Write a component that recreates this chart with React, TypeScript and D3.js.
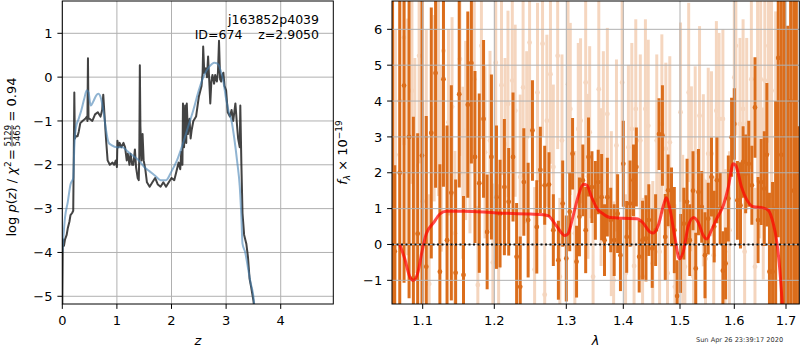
import React from 'react';
import * as d3 from 'd3';

// ---- left panel: p(z) curves  [z, log p(z)]
const pzRaw: [number, number][] = [
  [0, -5.3], [0.01, -3.7], [0.03, -3.85], [0.05, -3.7], [0.08, -3.6], [0.1, -3.45], [0.13, -3.3],
  [0.15, -3.15], [0.18, -3.1], [0.2, -3.05], [0.21, -1.8], [0.22, -0.35], [0.23, -1.4], [0.25, -1.35],
  [0.28, -1.35], [0.3, -1.25], [0.33, -1.05], [0.37, -1.0], [0.42, -0.95], [0.45, -0.9], [0.46, -1.0],
  [0.47, 0.43], [0.48, -0.95], [0.5, -0.95], [0.55, -1.0], [0.6, -0.85], [0.65, -0.8], [0.7, -0.9],
  [0.73, -0.75], [0.75, -0.4], [0.77, -0.8], [0.8, -1.4], [0.83, -1.9], [0.87, -2.0], [0.92, -1.95],
  [0.95, -2.0], [0.98, -1.9], [1.0, -2.05], [1.01, -1.45], [1.03, -1.6], [1.05, -1.5], [1.08, -1.6],
  [1.12, -1.5], [1.15, -1.6], [1.18, -1.9], [1.2, -1.75], [1.23, -2.0], [1.25, -1.75], [1.28, -2.0],
  [1.3, -2.0], [1.33, -1.65], [1.35, -2.05], [1.38, -2.3], [1.4, -2.35], [1.41, -1.8], [1.42, 0.27],
  [1.43, -1.1], [1.45, -1.9], [1.47, -1.3], [1.49, -1.9], [1.52, -2.1], [1.55, -2.4], [1.6, -2.5],
  [1.65, -2.4], [1.7, -2.3], [1.75, -2.45], [1.8, -2.5], [1.85, -2.4], [1.9, -2.5], [1.95, -2.4],
  [2.0, -2.3], [2.05, -2.35], [2.1, -2.1], [2.13, -1.95], [2.16, -2.1], [2.18, -1.7], [2.2, -2.0],
  [2.21, -0.6], [2.23, -1.6], [2.25, -0.65], [2.27, -1.5], [2.28, -0.6], [2.3, -1.3], [2.33, -0.95],
  [2.35, -1.4], [2.37, -1.2], [2.4, -1.0], [2.45, -0.9], [2.5, -0.45], [2.55, -0.2], [2.57, 0.1],
  [2.58, 0.7], [2.6, 0.1], [2.63, 0.2], [2.65, 0.0], [2.67, 0.47], [2.69, -0.05], [2.71, -0.6],
  [2.73, -0.1], [2.75, 0.05], [2.78, -0.15], [2.8, 0.05], [2.83, -0.1], [2.85, 0.1], [2.87, 0.83],
  [2.89, -0.05], [2.91, -0.1], [2.93, 0.05], [2.95, 0.1], [2.97, -0.2], [3.0, -0.3], [3.03, -0.8],
  [3.07, -0.9], [3.1, -0.75], [3.13, -1.0], [3.17, -0.6], [3.2, -1.1], [3.22, -1.4], [3.25, -1.6],
  [3.26, -0.65], [3.28, -2.0], [3.3, -3.1], [3.33, -3.6], [3.37, -3.8], [3.4, -4.1], [3.43, -4.6],
  [3.46, -4.8], [3.5, -5.1], [3.53, -5.4],
];

const pzSmooth: [number, number][] = [
  [0, -4.0], [0.05, -3.2], [0.1, -2.85], [0.15, -2.45], [0.2, -2.3], [0.22, -1.6], [0.25, -1.15],
  [0.3, -0.95], [0.35, -0.75], [0.4, -0.5], [0.45, -0.3], [0.48, -0.35], [0.52, -0.65], [0.57, -0.55],
  [0.62, -0.42], [0.66, -0.38], [0.7, -0.45], [0.75, -0.75], [0.8, -1.2], [0.85, -1.5], [0.9, -1.55],
  [1.0, -1.6], [1.1, -1.6], [1.2, -1.7], [1.3, -1.8], [1.4, -1.9], [1.5, -2.05], [1.6, -2.15],
  [1.7, -2.25], [1.8, -2.35], [1.9, -2.35], [2.0, -2.15], [2.1, -1.9], [2.2, -1.55], [2.3, -1.15],
  [2.4, -0.75], [2.5, -0.3], [2.6, 0.05], [2.7, 0.25], [2.78, 0.33], [2.85, 0.3], [2.9, 0.15],
  [2.95, -0.1], [3.0, -0.5], [3.05, -0.8], [3.1, -1.0], [3.15, -1.4], [3.2, -1.9], [3.25, -2.5],
  [3.28, -3.2], [3.3, -3.8], [3.35, -4.0], [3.4, -4.35], [3.45, -4.7], [3.5, -5.0], [3.53, -5.4],
];

// ---- right panel: spectrum  [lambda, flux, err]
const specStrong: [number, number, number][] = [
  [1.058, 1.5, 6.0], [1.061, -0.19, 2.4], [1.068, 2.0, 4.8], [1.074, 4.43, 5.5], [1.081, 3.0, 4.5],
  [1.087, -0.94, 4.5], [1.093, 0.3, 2.8], [1.099, 2.48, 4.5], [1.105, -0.62, 4.2], [1.112, 3.11, 3.5],
  [1.118, 4.78, 3.2], [1.124, -0.76, 3.0], [1.129, 4.61, 3.0], [1.134, 0.12, 3.2], [1.14, 1.44, 3.0],
  [1.146, -0.79, 2.6], [1.151, 4.19, 2.6], [1.157, -0.85, 2.2], [1.163, 3.9, 2.6], [1.168, 5.06, 2.8],
  [1.173, 2.44, 2.4], [1.179, 1.71, 2.5], [1.185, 3.5, 2.2], [1.19, 0.35, 1.6], [1.196, 2.44, 2.3],
  [1.203, 1.32, 2.0], [1.208, 0.86, 1.5], [1.214, 1.6, 1.9], [1.22, 1.19, 1.5], [1.226, 2.44, 1.8],
  [1.231, -0.34, 1.5], [1.236, -1.18, 1.4], [1.241, 1.74, 1.5], [1.247, 0.68, 1.6], [1.253, 3.18, 1.4],
  [1.259, 0.49, 1.3], [1.264, 2.08, 1.2], [1.27, 1.65, 1.1], [1.276, 1.67, 0.9], [1.282, 0.4, 1.0],
  [1.289, -0.44, 1.1], [1.295, 1.14, 1.2], [1.3, -0.39, 1.2], [1.306, 0.91, 1.1], [1.311, 2.53, 1.0],
  [1.318, -0.48, 1.0], [1.323, 0.77, 1.1], [1.329, 1.79, 1.0], [1.334, 0.4, 1.2], [1.339, 2.44, 1.1],
  [1.345, 1.6, 1.0], [1.351, 1.23, 1.1], [1.356, 1.74, 0.9], [1.362, 1.32, 1.2], [1.367, 0.12, 1.0],
  [1.372, 1.32, 1.1], [1.378, 0.68, 0.9], [1.384, 0.12, 1.0], [1.39, 0.86, 1.1], [1.395, -0.3, 1.0],
  [1.4, 2.25, 1.2], [1.406, 0.21, 1.0], [1.412, 1.14, 1.2], [1.418, 1.79, 1.0], [1.423, 2.16, 1.1],
  [1.428, -0.34, 1.0], [1.434, 0.12, 1.1], [1.44, 0.17, 1.2], [1.445, 0.68, 1.0], [1.451, -0.11, 1.1],
  [1.457, 0.4, 1.0], [1.463, 3.08, 1.0], [1.469, 3.04, 1.4], [1.474, 0.21, 1.2], [1.479, 1.51, 1.0],
  [1.485, 1.05, 1.1], [1.49, 0.4, 1.2], [1.495, -1.44, 1.0], [1.501, -0.25, 1.1], [1.507, 0.58, 1.0],
  [1.513, 1.19, 1.2], [1.518, 0.12, 1.0], [1.524, 1.5, 1.1], [1.529, -0.67, 1.0], [1.534, 1.46, 1.2],
  [1.54, 1.05, 1.0], [1.546, -0.3, 1.2], [1.552, 0.72, 1.0], [1.558, 1.88, 1.1], [1.563, 0.5, 1.0],
  [1.568, 1.79, 1.2], [1.574, 1.0, 1.0], [1.579, -0.73, 1.1], [1.584, -0.53, 1.0], [1.589, 1.28, 1.2],
  [1.595, 2.99, 1.1], [1.6, 3.36, 1.0], [1.606, 1.23, 1.1], [1.612, 1.09, 1.2], [1.617, 2.3, 1.0],
  [1.622, 1.97, 1.1], [1.628, 2.25, 1.2], [1.634, 1.65, 1.1], [1.64, 3.82, 1.4], [1.646, 0.68, 1.2],
  [1.652, 1.74, 1.2], [1.658, 1.56, 1.6], [1.663, 2.5, 2.0], [1.668, -0.76, 2.2], [1.674, -0.76, 2.5],
  [1.68, 1.0, 3.0], [1.685, 5.2, 5.0], [1.691, 2.5, 7.0], [1.697, 3.0, 7.0], [1.703, -1.0, 7.1],
  [1.709, 4.0, 7.0], [1.715, 1.5, 8.0], [1.72, 2.0, 8.0], [1.725, -2.0, 5.3],
];

const specWeak: [number, number, number][] = [
  [1.062, 2.5, 3.5], [1.068, 4.0, 3.0], [1.074, 5.77, 3.0], [1.079, 3.0, 3.3], [1.085, 4.29, 2.6],
  [1.089, 2.2, 3.0], [1.095, 5.26, 3.0], [1.1, 1.2, 2.8], [1.105, 2.99, 3.0], [1.109, -1.1, 2.5],
  [1.116, 3.8, 2.6], [1.122, 4.15, 2.8], [1.126, 2.4, 2.6], [1.129, 5.4, 2.5], [1.136, 3.41, 2.6],
  [1.141, 3.84, 2.5], [1.145, 0.31, 2.3], [1.152, 5.17, 2.7], [1.156, 2.0, 2.4], [1.16, 3.18, 2.5],
  [1.166, 2.71, 2.4], [1.172, 4.61, 2.6], [1.177, -1.13, 2.2], [1.182, 5.54, 2.6], [1.187, 2.57, 2.4],
  [1.194, 2.9, 2.5], [1.198, -0.5, 2.2], [1.202, 5.07, 2.6], [1.206, -0.62, 2.3], [1.21, 4.44, 2.5],
  [1.215, 2.8, 2.4], [1.219, 3.92, 2.6], [1.225, 4.57, 2.5], [1.229, 3.73, 2.4], [1.236, 1.88, 2.3],
  [1.24, 4.38, 2.5], [1.245, 2.99, 2.4], [1.249, 5.63, 2.6], [1.256, -0.7, 2.3], [1.26, 4.24, 2.5],
  [1.267, 5.6, 2.6], [1.27, -1.4, 2.2], [1.273, 3.45, 2.4], [1.278, 4.75, 2.5], [1.282, 2.16, 2.3],
  [1.288, 5.26, 2.6], [1.291, -0.9, 2.2], [1.294, 2.9, 2.4], [1.303, 4.47, 2.5], [1.307, 3.78, 2.4],
  [1.315, 0.31, 2.3], [1.321, 3.22, 2.4], [1.325, 3.45, 2.3], [1.334, 4.52, 2.5], [1.338, 1.9, 2.3],
  [1.341, 3.13, 2.4], [1.347, -0.9, 2.2], [1.357, 4.33, 2.5], [1.361, 1.6, 2.2], [1.365, 2.99, 2.4],
  [1.372, 3.64, 2.4], [1.379, 0.86, 2.3], [1.383, -1.0, 2.2], [1.388, 2.76, 2.4], [1.398, 4.52, 2.5],
  [1.404, -0.8, 2.2], [1.409, 2.71, 2.3], [1.415, 3.22, 2.4], [1.419, -0.6, 2.2], [1.422, 3.78, 2.5],
  [1.43, 2.9, 2.4], [1.434, -0.9, 2.2], [1.439, 3.78, 2.5], [1.444, 3.31, 2.4], [1.452, -0.53, 2.3],
  [1.459, 2.9, 2.4], [1.464, -0.2, 2.2], [1.468, 3.36, 2.5], [1.475, 2.67, 2.4], [1.478, -0.8, 2.2],
  [1.482, 2.85, 2.4], [1.491, -1.18, 2.3], [1.501, 3.69, 2.5], [1.505, 0.2, 2.3], [1.509, -0.62, 2.2],
  [1.516, 4.24, 2.5], [1.521, 2.11, 2.3], [1.525, -0.9, 2.2], [1.528, 2.57, 2.4], [1.536, 3.59, 2.5],
  [1.543, 1.79, 2.4], [1.547, -0.4, 2.2], [1.552, 2.53, 2.4], [1.558, 2.53, 2.3], [1.562, -0.3, 2.2],
  [1.567, 3.73, 2.5], [1.572, 3.5, 2.4], [1.579, 3.5, 2.5], [1.583, -0.2, 2.3], [1.591, 0.4, 2.2],
  [1.6, 4.66, 2.6], [1.603, 5.54, 2.5], [1.611, 3.36, 2.4], [1.617, 3.78, 2.5], [1.62, -0.2, 2.3],
  [1.624, 3.36, 2.4], [1.633, 4.61, 2.5], [1.64, -0.62, 2.2], [1.645, 4.33, 2.6], [1.649, 2.57, 2.4],
  [1.651, 4.61, 2.5], [1.656, 1.42, 2.4], [1.659, 4.57, 2.6], [1.666, 5.54, 2.7], [1.669, 5.31, 2.8],
  [1.672, 4.29, 3.0], [1.68, 3.0, 3.5],
];

// best-fit template  [lambda, flux]
const template: [number, number][] = [
  [1.068, 0.0], [1.075, -0.4], [1.082, -0.9], [1.087, -1.0], [1.093, -0.8], [1.099, -0.2], [1.105, 0.3],
  [1.115, 0.6], [1.124, 0.85], [1.133, 0.93], [1.157, 0.93], [1.203, 0.88], [1.25, 0.85], [1.268, 0.83],
  [1.275, 0.8], [1.287, 0.5], [1.298, 0.25], [1.303, 0.3], [1.312, 0.8], [1.321, 1.35], [1.33, 1.68],
  [1.336, 1.65], [1.345, 1.3], [1.354, 1.0], [1.365, 0.85], [1.377, 0.75], [1.4, 0.73], [1.424, 0.72],
  [1.435, 0.6], [1.447, 0.35], [1.453, 0.32], [1.462, 0.55], [1.471, 1.1], [1.476, 1.3], [1.482, 1.0],
  [1.491, 0.2], [1.499, -0.4], [1.506, -0.2], [1.515, 0.5], [1.525, 0.75], [1.534, 0.6], [1.543, 0.25],
  [1.549, 0.15], [1.558, 0.4], [1.567, 0.7], [1.58, 1.1], [1.589, 1.6], [1.598, 2.25], [1.603, 2.2],
  [1.614, 1.6], [1.624, 1.25], [1.637, 1.05], [1.656, 1.02], [1.666, 0.95], [1.675, 0.6], [1.682, 0.1],
  [1.688, -0.7], [1.693, -1.7], [1.697, -2.6],
];

const zTicks = [0, 1, 2, 3, 4];
const pzTicks = [-5, -4, -3, -2, -1, 0, 1];
const lamTicks = [1.1, 1.2, 1.3, 1.4, 1.5, 1.6, 1.7];
const fluxTicks = [-1, 0, 1, 2, 3, 4, 5, 6];

const FONT = 'DejaVu Sans, sans-serif';
const GRID = '#b0b0b0';
const ORANGE = '#db6d1b';
const minus = (s: string) => s.replace('-', '\u2212');

export default function App() {
  // axes boxes
  const L = { x0: 62.3, x1: 333.3, y0: 1, y1: 304 };
  const R = { x0: 392, x1: 799.3, y0: 1, y1: 304 };

  const zx = d3.scaleLinear().domain([0, 4.963]).range([L.x0, L.x1]);
  const py = d3.scaleLinear().domain([-5.176, 1.737]).range([L.y1, L.y0]);

  // wavelength axis is not linear in the original (grism pixels)
  const lx = d3.scaleLinear()
    .domain([1.0572, 1.1, 1.2, 1.3, 1.4, 1.5, 1.6, 1.7, 1.7257])
    .range([R.x0, 422.7, 494.3, 566.3, 623.3, 680, 734.3, 786, R.x1]);
  const fy = d3.scaleLinear().domain([-1.66, 6.79]).range([R.y1, R.y0]);

  const rawLine = d3.line<[number, number]>().x(d => zx(d[0])).y(d => py(d[1]));
  const smoothLine = d3.line<[number, number]>().x(d => zx(d[0])).y(d => py(d[1])).curve(d3.curveMonotoneX);
  const tplLine = d3.line<[number, number]>().x(d => lx(d[0])).y(d => fy(d[1])).curve(d3.curveMonotoneX);

  const tick = 4.9;
  const fs = 13;

  const errbars = (data: [number, number, number][], opacity: number, key: string) => (
    <g key={key} opacity={opacity}>
      {data.map((d, i) => (
        <line key={i} x1={lx(d[0])} x2={lx(d[0])} y1={fy(d[1] - d[2])} y2={fy(d[1] + d[2])}
          stroke={ORANGE} strokeWidth={3} />
      ))}
      {data.map((d, i) => (
        <circle key={'c' + i} cx={lx(d[0])} cy={fy(d[1])} r={2.4} fill={ORANGE} />
      ))}
    </g>
  );

  return (
    <svg width={800} height={350} style={{ position: 'absolute', left: 0, top: 0, background: '#fff' }}
      fontFamily={FONT}>
      <defs>
        <clipPath id="clipL"><rect x={L.x0} y={L.y0} width={L.x1 - L.x0} height={L.y1 - L.y0} /></clipPath>
        <clipPath id="clipR"><rect x={R.x0} y={R.y0} width={R.x1 - R.x0} height={R.y1 - R.y0} /></clipPath>
      </defs>

      {/* ---------- left panel ---------- */}
      <g>
        {zTicks.map(t => (
          <line key={'gx' + t} x1={zx(t)} x2={zx(t)} y1={L.y0} y2={L.y1} stroke={GRID} strokeWidth={1} />
        ))}
        {pzTicks.map(t => (
          <line key={'gy' + t} x1={L.x0} x2={L.x1} y1={py(t)} y2={py(t)} stroke={GRID} strokeWidth={1} />
        ))}
        <g clipPath="url(#clipL)">
          <path d={rawLine(pzRaw) || ''} fill="none" stroke="#222" strokeOpacity={0.85} strokeWidth={2} strokeLinejoin="round" />
          <path d={smoothLine(pzSmooth) || ''} fill="none" stroke="steelblue" strokeOpacity={0.6} strokeWidth={2} />
        </g>
        <rect x={L.x0} y={L.y0} width={L.x1 - L.x0} height={L.y1 - L.y0} fill="none" stroke="#000" strokeWidth={1} />
        {zTicks.map(t => (
          <g key={'tx' + t}>
            <line x1={zx(t)} x2={zx(t)} y1={L.y1} y2={L.y1 + tick} stroke="#000" />
            <text x={zx(t)} y={325} fontSize={fs} textAnchor="middle">{t}</text>
          </g>
        ))}
        {pzTicks.map(t => (
          <g key={'ty' + t}>
            <line x1={L.x0 - tick} x2={L.x0} y1={py(t)} y2={py(t)} stroke="#000" />
            <text x={L.x0 - 2 * tick} y={py(t)} dy="0.36em" fontSize={fs} textAnchor="end">{minus(String(t))}</text>
          </g>
        ))}
        <text x={(L.x0 + L.x1) / 2} y={345} fontSize={fs} fontStyle="italic" textAnchor="middle">z</text>
        <text x={319} y={24} fontSize={12.5} textAnchor="end">j163852p4039</text>
        <text x={319} y={39} fontSize={12.5} textAnchor="end" xmlSpace="preserve">ID=674    z=2.9050</text>

        {/* y label with fraction */}
        <g transform={`translate(16,${(L.y0 + L.y1) / 2}) rotate(-90)`} fontSize={fs}>
          <text x={-84} y={0}>log </text>
          <text x={-60} y={0} fontStyle="italic">p</text>
          <text x={-51.8} y={0}>(</text>
          <text x={-46.7} y={0} fontStyle="italic">z</text>
          <text x={-39.9} y={0} xmlSpace="preserve">) / </text>
          <text x={-22.2} y={0} fontStyle="italic">χ</text>
          <text x={-14.4} y={-5.5} fontSize={9}>2</text>
          <text x={-7.5} y={0}>=</text>
          <text x={6} y={-5.5} fontSize={8.5}>5129</text>
          <line x1={6} x2={27.5} y1={-4} y2={-4} stroke="#000" strokeWidth={0.7} />
          <text x={6} y={3.8} fontSize={8.5}>5465</text>
          <text x={31} y={0}>= 0.94</text>
        </g>
      </g>

      {/* ---------- right panel ---------- */}
      <g>
        <g clipPath="url(#clipR)">
          {errbars(specWeak, 0.28, 'weak')}
          {errbars(specStrong, 1, 'strong')}
        </g>
        {lamTicks.map(t => (
          <line key={'rgx' + t} x1={lx(t)} x2={lx(t)} y1={R.y0} y2={R.y1} stroke={GRID} strokeWidth={1} />
        ))}
        {fluxTicks.map(t => (
          <line key={'rgy' + t} x1={R.x0} x2={R.x1} y1={fy(t)} y2={fy(t)} stroke={GRID} strokeWidth={1} />
        ))}
        <g clipPath="url(#clipR)">
          <path d={tplLine(template) || ''} fill="none" stroke="red" strokeOpacity={0.7} strokeWidth={3} />
          <line x1={R.x0} x2={R.x1} y1={fy(0)} y2={fy(0)} stroke="#111" strokeWidth={2} strokeDasharray="2,2.5" />
        </g>
        <rect x={R.x0} y={R.y0} width={R.x1 - R.x0} height={R.y1 - R.y0} fill="none" stroke="#000" strokeWidth={1} />
        {lamTicks.map(t => (
          <g key={'rtx' + t}>
            <line x1={lx(t)} x2={lx(t)} y1={R.y1} y2={R.y1 + tick} stroke="#000" />
            <text x={lx(t)} y={325} fontSize={fs} textAnchor="middle">{d3.format('.1f')(t)}</text>
          </g>
        ))}
        {fluxTicks.map(t => (
          <g key={'rty' + t}>
            <line x1={R.x0 - tick} x2={R.x0} y1={fy(t)} y2={fy(t)} stroke="#000" />
            <text x={R.x0 - 2 * tick} y={fy(t)} dy="0.36em" fontSize={fs} textAnchor="end">{minus(String(t))}</text>
          </g>
        ))}
        <text x={(R.x0 + R.x1) / 2} y={345} fontSize={fs} fontStyle="italic" textAnchor="middle">λ</text>
        <text transform={`translate(347,${(R.y0 + R.y1) / 2}) rotate(-90)`} fontSize={fs} textAnchor="middle">
          <tspan fontStyle="italic">f</tspan>
          <tspan fontSize={9} fontStyle="italic" dy={3}>λ</tspan>
          <tspan dy={-3}> × 10</tspan>
          <tspan fontSize={9} dy={-5.5}>−19</tspan>
        </text>
        <text x={696} y={342} fontSize={6.6} fill="#333">Sun Apr 26 23:39:17 2020</text>
      </g>
    </svg>
  );
}
